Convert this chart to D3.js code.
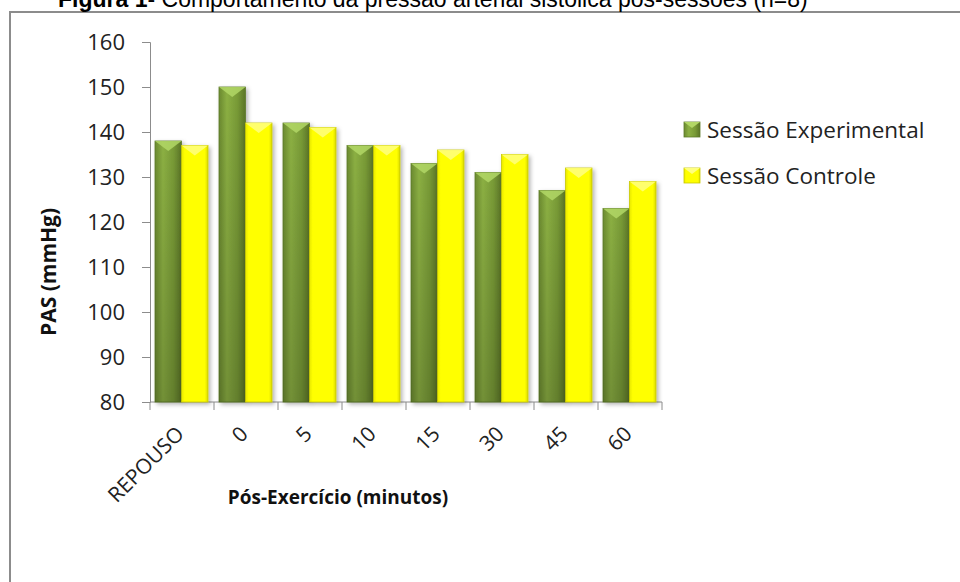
<!DOCTYPE html>
<html>
<head>
<meta charset="utf-8">
<script src="https://cdn.jsdelivr.net/npm/d3@7"></script>
<style>
  body { margin: 0; background: #fff; }
  svg { display: block; }
</style>
</head>
<body>
<svg id="chart"></svg>
<script>
// data
const categories = ['REPOUSO', '0', '5', '10', '15', '30', '45', '60'];
const seriesNames = ['Sessão Experimental', 'Sessão Controle'];
const experimental = [138, 150, 142, 137, 133, 131, 127, 123];
const controle = [137, 142, 141, 137, 136, 135, 132, 129];
const yTicks = [80, 90, 100, 110, 120, 130, 140, 150, 160];

const width = 960, height = 582;
const svg = d3.select('#chart')
    .attr('width', width)
    .attr('height', height);

const defs = svg.append('defs');

// horizontal shading of the bars
const gGreen = defs.append('linearGradient').attr('id', 'gradGreen')
    .attr('x1', 0).attr('x2', 1).attr('y1', 0).attr('y2', 0);
gGreen.append('stop').attr('offset', '0%').attr('stop-color', '#6b8a30');
gGreen.append('stop').attr('offset', '30%').attr('stop-color', '#8cb043');
gGreen.append('stop').attr('offset', '70%').attr('stop-color', '#789a36');
gGreen.append('stop').attr('offset', '100%').attr('stop-color', '#5b7527');

const gGreenV = defs.append('linearGradient').attr('id', 'gradGreenV')
    .attr('x1', 0).attr('x2', 0).attr('y1', 0).attr('y2', 1);
gGreenV.append('stop').attr('offset', '0%').attr('stop-color', '#000').attr('stop-opacity', 0);
gGreenV.append('stop').attr('offset', '100%').attr('stop-color', '#000').attr('stop-opacity', 0.18);

const gYellow = defs.append('linearGradient').attr('id', 'gradYellow')
    .attr('x1', 0).attr('x2', 1).attr('y1', 0).attr('y2', 0);
gYellow.append('stop').attr('offset', '0%').attr('stop-color', '#e8e800');
gYellow.append('stop').attr('offset', '12%').attr('stop-color', '#ffff00');
gYellow.append('stop').attr('offset', '88%').attr('stop-color', '#ffff00');
gYellow.append('stop').attr('offset', '100%').attr('stop-color', '#d9d900');

const shadow = defs.append('filter').attr('id', 'shadow')
    .attr('x', '-30%').attr('y', '-10%').attr('width', '160%').attr('height', '130%');
shadow.append('feDropShadow')
    .attr('dx', 2).attr('dy', 2).attr('stdDeviation', 2)
    .attr('flood-color', '#000').attr('flood-opacity', 0.3);

// outer frame (continues past the picture edges)
svg.append('rect')
    .attr('x', 10).attr('y', 12)
    .attr('width', 1000).attr('height', 700)
    .attr('fill', 'none')
    .attr('stroke', '#8c8c8c')
    .attr('stroke-width', 2);

// title, cut off at the top as in the source
svg.append('text')
    .attr('x', 58).attr('y', 7)
    .style('font-family', '"Liberation Sans", Arial, sans-serif')
    .style('font-size', '23px')
    .call(t => {
      t.append('tspan').style('font-weight', 'bold').text('Figura 1');
      t.append('tspan').text('- Comportamento da pressão arterial sistólica pós-sessões (n=8)');
    });

const x = d3.scaleBand().domain(categories).range([150, 662]);
const xInner = d3.scaleBand().domain(seriesNames).range([5, 58]);
const y = d3.scaleLinear().domain([80, 160]).range([402, 42]);

const font = '"Open Sans", Lato, sans-serif';

// y axis
const yAxis = svg.append('g')
    .attr('transform', 'translate(150,0)')
    .call(d3.axisLeft(y).tickValues(yTicks).tickSize(8).tickPadding(17));
yAxis.select('.domain').attr('stroke', '#8c8c8c');
yAxis.selectAll('.tick line').attr('stroke', '#8c8c8c');
yAxis.selectAll('.tick text')
    .style('font-family', font)
    .style('font-size', '22px')
    .attr('fill', '#222');

// x axis: line plus ticks on the category boundaries
svg.append('line')
    .attr('x1', 150).attr('x2', 662)
    .attr('y1', y(80)).attr('y2', y(80))
    .attr('stroke', '#8c8c8c');
svg.selectAll('.xtick')
    .data(categories.map(c => x(c)).concat([x.range()[1]]))
    .join('line')
    .attr('class', 'xtick')
    .attr('x1', d => d).attr('x2', d => d)
    .attr('y1', y(80)).attr('y2', y(80) + 8)
    .attr('stroke', '#8c8c8c');

svg.selectAll('.xlabel')
    .data(categories)
    .join('text')
    .attr('class', 'xlabel')
    .attr('transform', d => `translate(${x(d) + x.bandwidth() / 2 - 2},${y(80) + 28}) rotate(-45)`)
    .attr('text-anchor', 'end')
    .attr('dy', '0.35em')
    .style('font-family', font)
    .style('font-size', '21px')
    .attr('fill', '#222')
    .text(d => d);

// bars
const rows = categories.map((c, i) => [
  { cat: c, s: seriesNames[0], v: experimental[i] },
  { cat: c, s: seriesNames[1], v: controle[i] }
]).flat();

const bars = svg.append('g').selectAll('g')
    .data(rows)
    .join('g')
    .attr('transform', d => `translate(${x(d.cat) + xInner(d.s)},0)`);

bars.append('rect')
    .attr('y', d => y(d.v))
    .attr('width', xInner.bandwidth())
    .attr('height', d => y(80) - y(d.v))
    .attr('fill', d => d.s === seriesNames[0] ? 'url(#gradGreen)' : 'url(#gradYellow)')
    .attr('stroke', d => d.s === seriesNames[0] ? '#5d7a28' : '#c8c800')
    .attr('stroke-width', 0.8)
    .attr('filter', 'url(#shadow)');

bars.filter(d => d.s === seriesNames[0]).append('rect')
    .attr('y', d => y(d.v))
    .attr('width', xInner.bandwidth())
    .attr('height', d => y(80) - y(d.v))
    .attr('fill', 'url(#gradGreenV)');

// bevel highlight at the top of each bar
bars.append('path')
    .attr('d', d => {
      const w = xInner.bandwidth(), t = y(d.v);
      return `M0,${t} L${w},${t} L${w / 2},${t + 10} Z`;
    })
    .attr('fill', d => d.s === seriesNames[0] ? '#b2d766' : '#ffff80')
    .attr('opacity', 0.85);

// axis titles
svg.append('text')
    .attr('transform', 'translate(56,272) rotate(-90)')
    .attr('text-anchor', 'middle')
    .style('font-family', font)
    .style('font-size', '21px')
    .style('font-weight', 'bold')
    .attr('fill', '#111')
    .text('PAS (mmHg)');

svg.append('text')
    .attr('x', 338).attr('y', 504)
    .attr('text-anchor', 'middle')
    .style('font-family', font)
    .style('font-size', '19px')
    .style('font-weight', 'bold')
    .attr('fill', '#111')
    .text('Pós-Exercício (minutos)');

// legend
const legend = svg.append('g').selectAll('g')
    .data(seriesNames)
    .join('g')
    .attr('transform', (d, i) => `translate(684,${122 + i * 46})`);

legend.append('rect')
    .attr('width', 16).attr('height', 15)
    .attr('fill', (d, i) => i === 0 ? 'url(#gradGreen)' : 'url(#gradYellow)')
    .attr('stroke', (d, i) => i === 0 ? '#5d7a28' : '#c8c800')
    .attr('stroke-width', 0.8);
legend.append('path')
    .attr('d', 'M0,0 L16,0 L8,6 Z')
    .attr('fill', (d, i) => i === 0 ? '#b2d766' : '#ffff80');

legend.append('text')
    .attr('x', 23).attr('y', 8)
    .attr('dy', '0.35em')
    .style('font-family', font)
    .style('font-size', '22.5px')
    .attr('fill', '#222')
    .text(d => d);
</script>
</body>
</html>
